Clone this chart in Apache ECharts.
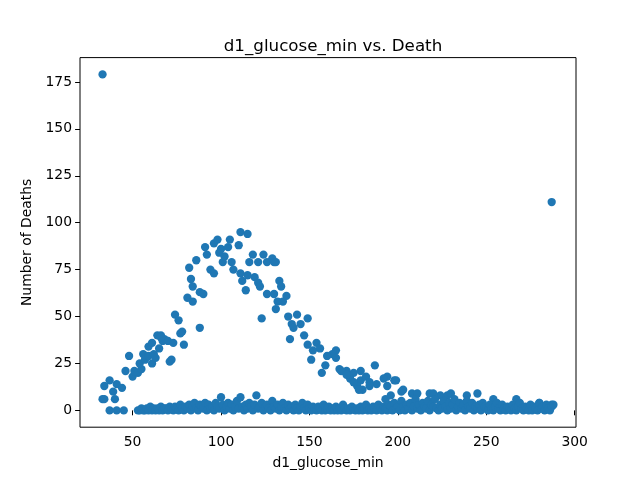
<!DOCTYPE html>
<html>
<head>
<meta charset="utf-8">
<script src="https://cdn.jsdelivr.net/npm/echarts@6/dist/echarts.min.js"></script>
<style>html,body{margin:0;padding:0;background:#fff}#c{width:640px;height:480px}</style>
</head>
<body>
<div id="c"></div>
<script>
// Upper arc of points
const arcX = [33,34,34,37,41,39,40,44,46,50,48,51,53,55,54,56,57,59,59,61,62,61,63,65,64,66,67,68,70,66,71,72,73,74,76,78,79,77,
  81,82,83,84,84,86,88,88,90,91,92,94,96,96,98,99,100,101,102,104,105,106,107,110,111,111,112,114,115,115,116,118,119,121,121,122,123,124,126,126,129,130,131,133,134,130,132,135,131,137,
  138,143,149,140,145,141,147,139,149,154,156,152,165,163,160,165,151,159,157,167,171,175,179,187,173,179,182,177,180,194,194,199,193,184,188,168,171,175,178,184,192,196,202,208,218,224,228,198,203,211,220,230,239,245,254,267,280,287];
const arcY = [6,13,6,16,14,10,6,12,21,18,29,21,20,22,25,30,27,29,34,36,30,25,28,33,40,40,37,38,37,39,26,27,36,51,48,42,35,41,
  60,76,70,66,58,80,63,44,62,87,83,75,73,89,91,84,86,79,82,87,91,79,75,88,95,73,69,64,94,72,79,83,71,79,68,66,49,83,79,62,81,79,79,69,66,62,58,58,54,61,
  50,51,49,46,46,44,40,38,35,36,33,32,32,30,29,28,27,24,20,22,21,20,21,24,17,16,18,13,11,18,13,16,6,15,14,21,19,15,11,13,17,8,10,9,9,8,8,16,11,9,9,9,8,9,6,6,4,3];

// Bottom band of points
const bandX = [37,41,45,
  53,54,55,56,57,58,59,60,61,62,63,64,65,66,67,68,69,70,71,72,73,74,75,76,77,78,79,80,81,82,83,84,85,86,87,88,89,90,91,92,
  93,94,95,96,97,98,99,100,101,102,103,104,105,106,107,108,109,110,111,112,113,114,115,116,117,118,119,120,121,122,
  123,124,125,126,127,128,129,130,131,132,133,134,135,136,137,138,139,140,141,142,143,144,145,146,147,148,149,150,151,152,
  153,154,155,156,157,158,159,160,161,162,163,164,165,166,167,168,169,170,171,172,173,174,175,176,177,178,179,180,181,182,
  183,184,185,186,187,188,189,190,191,192,193,194,195,196,197,198,199,200,201,202,203,204,205,206,207,208,209,210,211,212,
  213,214,215,216,217,218,219,220,221,222,223,224,225,226,227,228,229,230,231,232,233,234,235,236,237,238,239,240,241,242,
  243,244,245,246,247,248,249,250,251,252,253,254,255,256,257,258,259,260,261,262,263,264,265,266,267,268,269,270,271,272,
  273,274,275,276,277,278,279,280,281,282,283,284,285,286,287,288];
const bandY = [0,0,0,
  0,0,1,0,0,1,0,2,0,1, 0,1,0,2,0,1,1,0,2,1, 0,2,1,0,3,1,0,2,1,3, 0,2,4,1,0,3,2,1,4,0,
  3,1,2,0,4,2,1,7,3,0, 2,4,1,3,0,2,5,1,7,2, 0,3,1,4,2,0,3,8,1,2,
  4,0,2,3,1,0,5,2,1,3, 0,2,4,1,0,3,1,2,0,3, 1,0,2,4,1,0,3,1,0,2,
  1,0,2,1,0,3,0,1,2,0, 1,0,2,0,1,0,3,1,0,1, 0,2,1,0,1,0,2,0,1,3,
  0,1,0,2,1,0,3,1,0,2, 1,0,3,2,0,4,1,2,0,5, 2,0,3,1,4,0,2,6,1,3,
  0,4,2,1,5,0,3,2,6,1, 0,3,1,5,2,0,4,1,3,6, 0,2,4,1,3,0,5,2,1,4,
  0,2,1,3,0,4,2,1,0,3, 1,0,2,4,1,0,3,1,0,2, 1,0,3,1,0,2,4,1,0,2,
  1,0,3,0,2,1,0,4,1,2, 0,3,1,0,2,3];

// Outliers
const outX = [33, 287];
const outY = [179, 111];

const xTicks = [50, 100, 150, 200, 250, 300];
const yTicks = [0, 25, 50, 75, 100, 125, 150, 175];

const data = [];
arcX.forEach((x, i) => data.push([x, arcY[i]]));
bandX.forEach((x, i) => data.push([x, bandY[i]]));
outX.forEach((x, i) => data.push([x, outY[i]]));

const font = 'DejaVu Sans';
const chart = echarts.init(document.getElementById('c'), null, {renderer: 'canvas'});
chart.setOption({
  animation: false,
  backgroundColor: '#fff',
  title: {
    text: 'd1_glucose_min vs. Death',
    left: 328, top: 33, textAlign: 'center',
    textStyle: {fontFamily: font, fontSize: 16.7, fontWeight: 'normal', color: '#000'}
  },
  grid: {left: 80, right: 64, top: 57.6, bottom: 52.8, show: true, borderColor: '#000', borderWidth: 1, backgroundColor: 'transparent'},
  xAxis: {
    type: 'value', min: 20.25, max: 300.75,
    name: 'd1_glucose_min', nameLocation: 'middle', nameGap: 29,
    nameTextStyle: {fontFamily: font, fontSize: 13.9, color: '#000'},
    axisLine: {show: false},
    axisTick: {show: true, length: 4.9, lineStyle: {color: '#000'}, customValues: xTicks},
    axisLabel: {fontFamily: font, fontSize: 13.9, color: '#000', margin: 8, customValues: xTicks},
    splitLine: {show: false}
  },
  yAxis: {
    type: 'value', min: -8.95, max: 187.95,
    name: 'Number of Deaths', nameLocation: 'middle', nameGap: 41,
    nameTextStyle: {fontFamily: font, fontSize: 13.9, color: '#000'},
    axisLine: {show: false},
    axisTick: {show: true, length: 4.9, lineStyle: {color: '#000'}, customValues: yTicks},
    axisLabel: {fontFamily: font, fontSize: 13.9, color: '#000', margin: 8, customValues: yTicks},
    splitLine: {show: false}
  },
  series: [{
    type: 'scatter',
    data: data,
    symbolSize: 8.3,
    itemStyle: {color: '#1f77b4', opacity: 1},
    emphasis: {disabled: true}
  }]
});
</script>
</body>
</html>
